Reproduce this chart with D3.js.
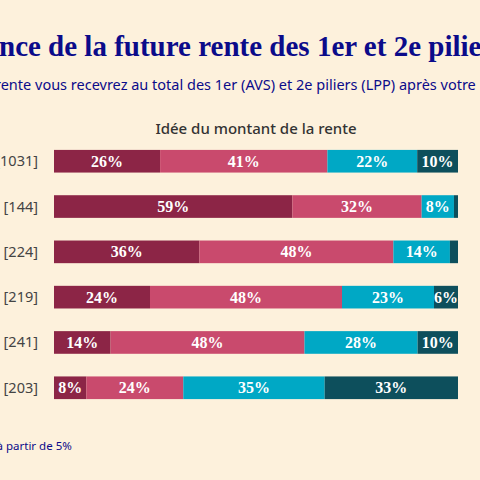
<!DOCTYPE html><html><head><meta charset="utf-8"><script src="https://cdn.jsdelivr.net/npm/d3@7"></script>
<style>body{margin:0;background:#fdf1dc;overflow:hidden}</style></head><body>
<script>
const categories=["Total [1031]","18-34 ans [144]","35-44 ans [224]","45-54 ans [219]","55-64 ans [241]","65 ans et plus [203]"];
const series=["Aucune idée","Vague idée","Idée assez précise","Idée très précise"];
const v1=[26,59,36,24,14,8];
const v2=[41,32,48,48,48,24];
const v3=[22,8,14,23,28,35];
const v4=[10,1,2,6,10,33];
const colors=["#8c2546","#c94a6d","#00a8c5","#0d4f5c"];
const W=480,H=480;
const svg=d3.select("body").append("svg").attr("width",W).attr("height",H);
svg.append("rect").attr("width",W).attr("height",H).attr("fill","#fdf1dc");
function clipText(y,full,prefix,x0,attrs){
  const t=svg.append("text").attr("y",y);
  for(const k in attrs)t.style(k,attrs[k]);
  t.text(prefix);const pw=t.node().getComputedTextLength();
  t.text(full).attr("x",x0-pw);return t;
}
clipText(56,"Connaissance de la future rente des 1er et 2e piliers","Connaissa",-1,{"font-family":"Liberation Serif, serif","font-weight":"bold","font-size":"29px","fill":"#0b0b8a"});
clipText(90,"Savez-vous quelle rente vous recevrez au total des 1er (AVS) et 2e piliers (LPP) après votre retraite ?","Savez-vous quelle r",1,{"font-family":"Noto Sans, sans-serif","font-size":"14.5px","fill":"#0b0b8a"});
svg.append("text").attr("x",256).attr("y",134).attr("text-anchor","middle").style("font-family","Noto Sans, sans-serif").style("font-size","15px").style("font-weight","500").attr("fill","#333").text("Idée du montant de la rente");
clipText(450,"Étiquettes affichées à partir de 5%","Étiquettes affichées à ",3,{"font-family":"Noto Sans, sans-serif","font-size":"11.5px","fill":"#0b0b8a"});
const data=categories.map((c,i)=>({cat:c,vals:[v1[i],v2[i],v3[i],v4[i]]}));
const x=d3.scaleLinear().domain([0,1]).range([54,458]);
const y=d3.scaleBand().domain(categories).range([149,400]).paddingInner(0.5).paddingOuter(0.02);
data.forEach(d=>{
  const tot=d3.sum(d.vals);let acc=0;
  const g=svg.append("g");
  d.vals.forEach((v,j)=>{
    const a=acc/tot,b=(acc+v)/tot;acc+=v;
    g.append("rect").attr("x",x(a)).attr("width",x(b)-x(a)).attr("y",y(d.cat)).attr("height",y.bandwidth()).attr("fill",colors[j]);
    if(v>=5)g.append("text").attr("x",(x(a)+x(b))/2).attr("y",y(d.cat)+y.bandwidth()/2+5.5).attr("text-anchor","middle").attr("fill","#fff").style("font-family","Liberation Serif, serif").style("font-weight","bold").style("font-size","16px").text(v+"%");
  });
  svg.append("text").attr("x",38).attr("y",y(d.cat)+y.bandwidth()/2+5).attr("text-anchor","end").style("font-family","Noto Sans, sans-serif").style("font-size","14.5px").attr("fill","#444").text(d.cat);
});
</script></body></html>
